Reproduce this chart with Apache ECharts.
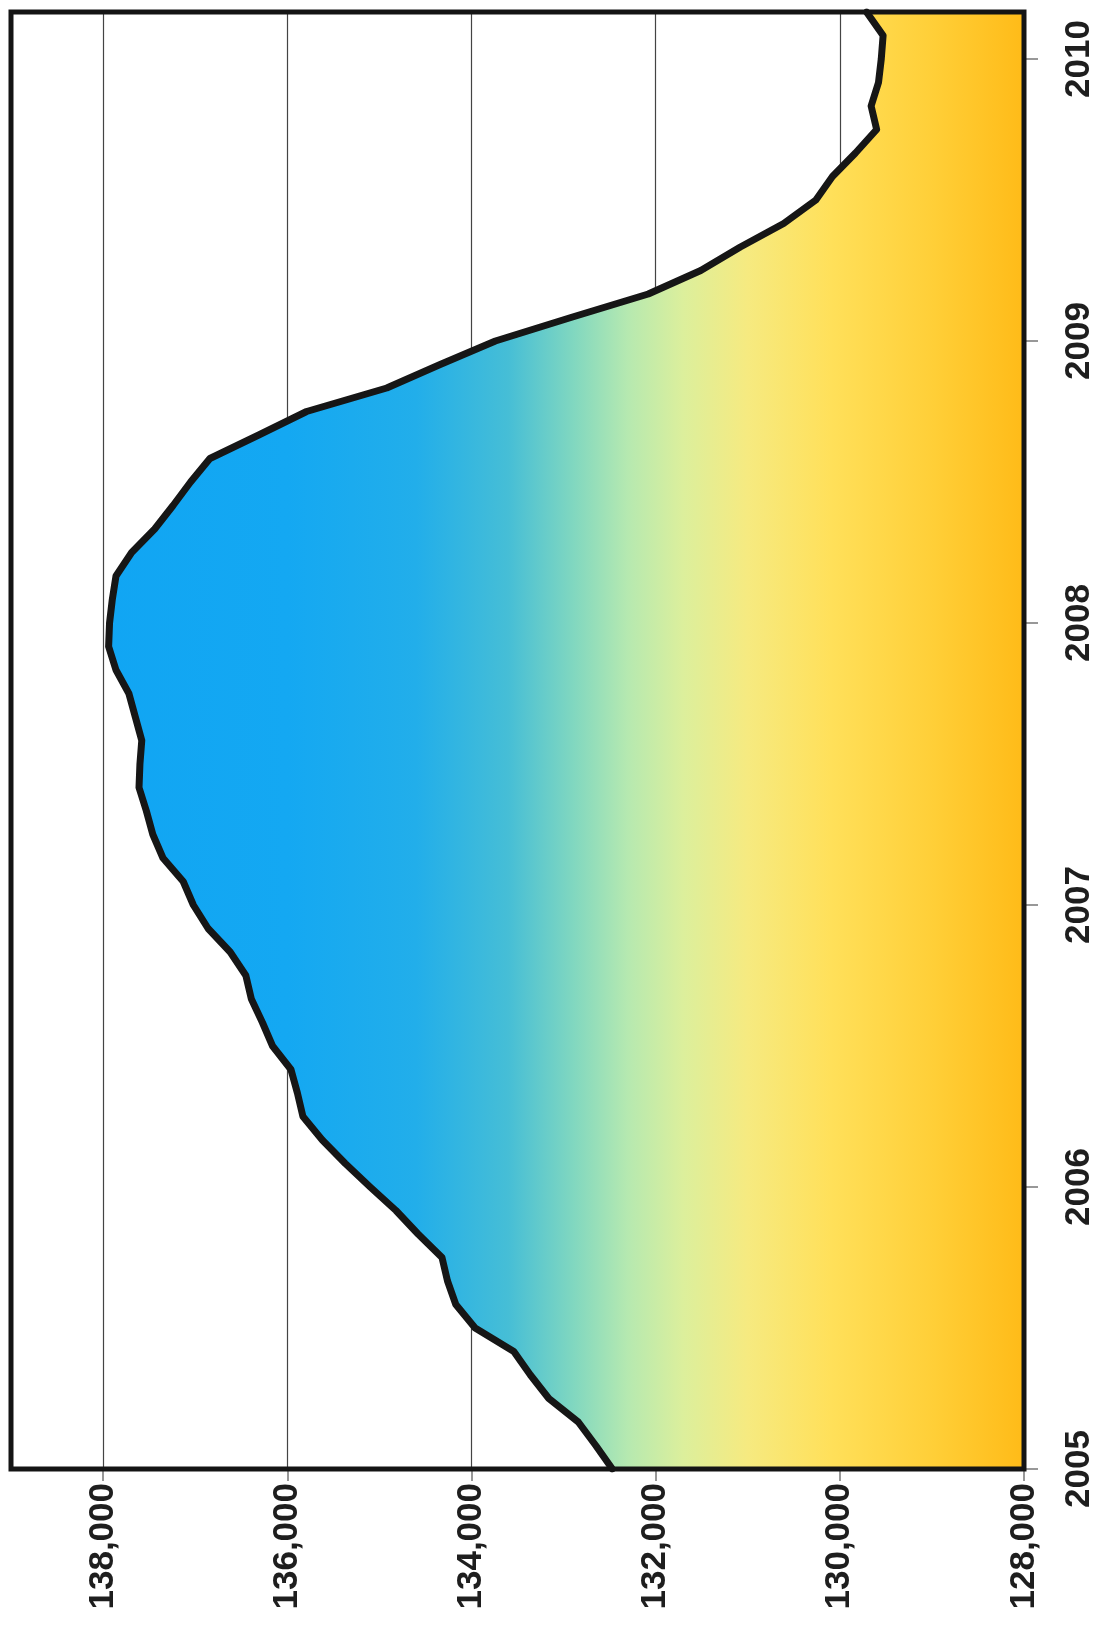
<!DOCTYPE html>
<html>
<head>
<meta charset="utf-8">
<script src="https://cdn.jsdelivr.net/npm/echarts@6/dist/echarts.min.js"></script>
<style>
  html, body { margin: 0; padding: 0; background: #ffffff; }
  #chart { width: 1099px; height: 1627px; }
</style>
</head>
<body>
<div id="chart"></div>
<script>
// Monthly periods, Jan 2005 – Mar 2010
const months = [
  '2005-01','2005-02','2005-03','2005-04','2005-05','2005-06','2005-07','2005-08','2005-09','2005-10','2005-11','2005-12',
  '2006-01','2006-02','2006-03','2006-04','2006-05','2006-06','2006-07','2006-08','2006-09','2006-10','2006-11','2006-12',
  '2007-01','2007-02','2007-03','2007-04','2007-05','2007-06','2007-07','2007-08','2007-09','2007-10','2007-11','2007-12',
  '2008-01','2008-02','2008-03','2008-04','2008-05','2008-06','2008-07','2008-08','2008-09','2008-10','2008-11','2008-12',
  '2009-01','2009-02','2009-03','2009-04','2009-05','2009-06','2009-07','2009-08','2009-09','2009-10','2009-11','2009-12',
  '2010-01','2010-02','2010-03'
];

// Employment level (thousands) for each month
const employment = [
  132470, 132650, 132840, 133160, 133360, 133540, 133960, 134170, 134260, 134320, 134580, 134820,
  135100, 135370, 135620, 135830, 135890, 135960, 136160, 136270, 136390, 136450, 136620, 136860,
  137020, 137130, 137350, 137460, 137530, 137610, 137600, 137580, 137650, 137720, 137860, 137940,
  137930, 137900, 137860, 137690, 137440, 137240, 137050, 136840, 136310, 135790, 134920, 134340,
  133740, 132920, 132080, 131510, 131080, 130610, 130260, 130080, 129830, 129600, 129660, 129580,
  129550, 129530, 129710
];

// Value-axis tick labels
const valueTicks = [128000, 130000, 132000, 134000, 136000, 138000];
const valueMin = 128000;
const valueMax = 139000;

const W = 1099, H = 1627;
const GRID = { left: 11, right: 75, top: 12, bottom: 158 };
const plotLeft = GRID.left, plotRight = W - GRID.right;
const plotTop = GRID.top, plotBottom = H - GRID.bottom;

function fmtThousands(v) {
  return String(v).replace(/\B(?=(\d{3})+(?!\d))/g, ',');
}

// colour stop for a given value, placed along the value axis
function stopAt(v, color) {
  return { offset: (valueMax - v) / (valueMax - valueMin), color: color };
}

const areaGradient = new echarts.graphic.LinearGradient(plotLeft, 0, plotRight, 0, [
  stopAt(139000, '#0fa4f4'),
  stopAt(136000, '#14a8f2'),
  stopAt(134600, '#22aeea'),
  stopAt(133600, '#46bed6'),
  stopAt(132900, '#80d7c0'),
  stopAt(132300, '#b6e9b0'),
  stopAt(131700, '#dcef9c'),
  stopAt(131000, '#f6ea80'),
  stopAt(130100, '#ffe05a'),
  stopAt(129000, '#ffcf38'),
  stopAt(128000, '#ffbb18')
], true);

const labelFont = {
  fontFamily: '"Liberation Sans", Arial, Helvetica, sans-serif',
  fontWeight: 'bold',
  fontSize: 35,
  color: '#1e1e1e'
};

const chart = echarts.init(document.getElementById('chart'), null, { renderer: 'canvas', width: W, height: H });

chart.setOption({
  animation: false,
  backgroundColor: '#ffffff',
  grid: {
    left: GRID.left, right: GRID.right, top: GRID.top, bottom: GRID.bottom,
    containLabel: false
  },
  xAxis: {
    type: 'value',
    inverse: true,
    min: valueMin,
    max: valueMax,
    interval: 2000,
    axisLine: { show: false },
    axisTick: {
      show: true, length: 12, inside: false,
      customValues: valueTicks,
      lineStyle: { color: '#777', width: 1.5 }
    },
    axisLabel: Object.assign({
      rotate: 90,
      margin: 14,
      customValues: valueTicks,
      formatter: fmtThousands
    }, labelFont),
    splitLine: { show: true, lineStyle: { color: '#444', width: 1.2 } }
  },
  yAxis: {
    type: 'category',
    position: 'right',
    data: months,
    boundaryGap: false,
    axisLine: { show: false },
    axisTick: {
      show: true, length: 14, inside: false,
      interval: function (i) { return i % 12 === 0; },
      lineStyle: { color: '#777', width: 1.5 }
    },
    axisLabel: Object.assign({
      rotate: 90,
      margin: 38,
      interval: function (i) { return i % 12 === 0; },
      formatter: function (v) { return v.slice(0, 4); }
    }, labelFont),
    splitLine: { show: false }
  },
  series: [{
    type: 'line',
    data: employment.map(function (v, i) { return [v, months[i]]; }),
    showSymbol: false,
    smooth: false,
    clip: true,
    lineStyle: { color: '#161616', width: 7, join: 'round', cap: 'round' },
    areaStyle: { origin: 'start', color: areaGradient, opacity: 1 },
    z: 3
  }],
  graphic: [{
    type: 'rect',
    z: 100,
    silent: true,
    shape: { x: plotLeft, y: plotTop, width: plotRight - plotLeft, height: plotBottom - plotTop },
    style: { fill: null, stroke: '#141414', lineWidth: 5 }
  }]
});
</script>
</body>
</html>
